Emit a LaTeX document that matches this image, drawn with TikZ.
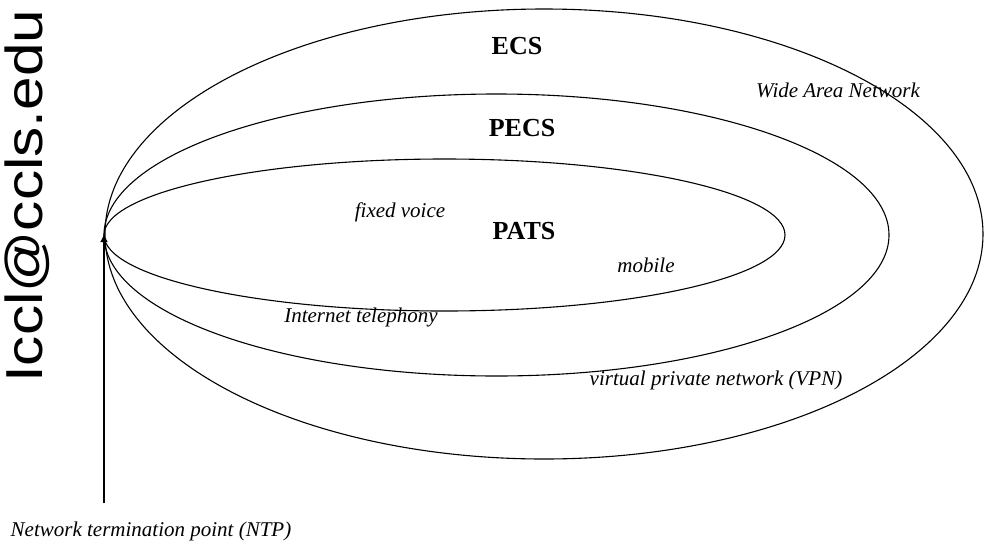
\documentclass[tikz,border=0pt]{standalone}
\usepackage{fontspec}
\setmainfont{Liberation Serif}
\newfontfamily\arialfont{Liberation Sans}
\usetikzlibrary{arrows.meta}
\tikzset{
  ring/.style={draw=black, line width=1.1pt},
  biglabel/.style={font=\fontsize{26}{28}\selectfont\bfseries, inner sep=0pt},
  itlabel/.style={font=\fontsize{21}{23}\selectfont\itshape, inner sep=0pt},
}
\begin{document}
\begin{tikzpicture}[x=1pt,y=-1pt]
\useasboundingbox (0,0) rectangle (984,544);
% rings
\draw[ring] (544,234) ellipse [x radius=439, y radius=225];
\draw[ring] (496.5,235) ellipse [x radius=392.5, y radius=141];
\draw[ring] (444.5,235) ellipse [x radius=340.5, y radius=76];
% labels
\node[biglabel] (ecs) at (517,46) {ECS};
\node[biglabel] (pecs) at (522,128) {PECS};
\node[biglabel] (pats) at (524,231) {PATS};
\node[itlabel, anchor=base] (wan) at (838,97) {Wide Area Network};
\node[itlabel, anchor=base] (fixed) at (400,217) {fixed voice};
\node[itlabel, anchor=base] (mobile) at (646,272) {mobile};
\node[itlabel, anchor=base] (inet) at (361,322) {Internet telephony};
\node[itlabel, anchor=base] (vpn) at (716,385) {virtual private network (VPN)};
\node[itlabel, anchor=base] (ntplabel) at (151,536) {Network termination point (NTP)};
% NTP arrow
\coordinate (ntpfoot) at (104,503);
\coordinate (ntp) at (104,235);
\draw[line width=1.1pt, -{Triangle[length=7pt,width=7pt]}] (ntpfoot) -- (ntp);
% vertical watermark text
\node[rotate=90, anchor=base west, inner sep=0pt,
      font=\arialfont\fontsize{52}{52}\selectfont] (mail) at (42,383)
      {\scalebox{1.16}[1]{Iccl@ccls.edu}};
\end{tikzpicture}
\end{document}
